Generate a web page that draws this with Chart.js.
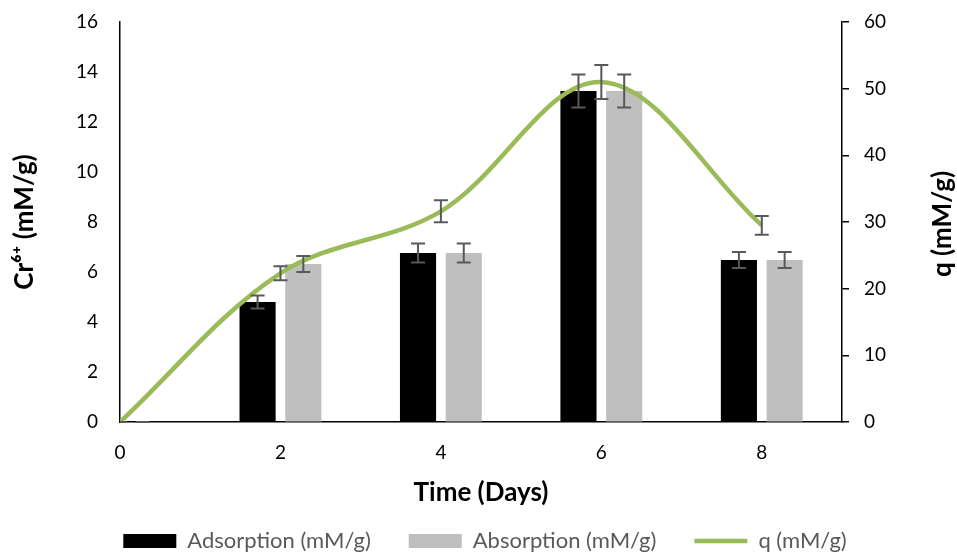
<!DOCTYPE html>
<html>
<head>
<meta charset="utf-8">
<script src="https://cdn.jsdelivr.net/npm/chart.js@4/dist/chart.umd.min.js"></script>
<style>
  html, body { margin: 0; padding: 0; background: #fff; overflow: hidden; }
  canvas { display: block; }
</style>
</head>
<body>
<canvas id="c" width="957" height="562"></canvas>
<script>
// ---- data ----
const days = [0, 2, 4, 6, 8];
const adsorption = [0, 4.8, 6.76, 13.24, 6.48];
const adsorptionErr = [0, 0.26, 0.38, 0.66, 0.32];
const absorption = [0, 6.32, 6.76, 13.24, 6.48];
const absorptionErr = [0, 0.32, 0.38, 0.66, 0.32];
const qValues = [0, 22.3, 31.6, 51.0, 29.5];
const qErr = [0, 1.05, 1.65, 2.55, 1.4];
const seriesLabels = ['Adsorption (mM/g)', 'Absorption (mM/g)', 'q (mM/g)'];
const xTicks = [0, 2, 4, 6, 8];
const leftTicks = [0, 2, 4, 6, 8, 10, 12, 14, 16];
const rightTicks = [0, 10, 20, 30, 40, 50, 60];

const LPAD = 13;
const FONT = 'Lato, "Open Sans", sans-serif';
const TITLE_SIZE = 26;

const errorSets = [adsorptionErr, absorptionErr, qErr];

const errorBarPlugin = {
  id: 'errorBars',
  afterDatasetsDraw(chart) {
    const ctx = chart.ctx;
    const area = chart.chartArea;
    ctx.save();
    ctx.beginPath();
    ctx.rect(area.left, area.top - 10, area.right - area.left, area.bottom - area.top + 12);
    ctx.clip();
    ctx.strokeStyle = '#595959';
    ctx.lineWidth = 2;
    chart.data.datasets.forEach((ds, di) => {
      const meta = chart.getDatasetMeta(di);
      const yScale = chart.scales[meta.yAxisID];
      const errs = errorSets[di];
      meta.data.forEach((el, i) => {
        const v = ds.data[i].y;
        const e = errs[i];
        const x = el.x;
        const yt = yScale.getPixelForValue(v + e);
        const yb = yScale.getPixelForValue(Math.max(v - e, 0));
        const cap = 7;
        ctx.beginPath();
        ctx.moveTo(x, yt); ctx.lineTo(x, yb);
        ctx.moveTo(x - cap, yt); ctx.lineTo(x + cap, yt);
        ctx.moveTo(x - cap, yb); ctx.lineTo(x + cap, yb);
        ctx.stroke();
      });
    });
    ctx.restore();
  }
};

const rightTitlePlugin = {
  id: 'rightTitle',
  afterDraw(chart) {
    const ctx = chart.ctx;
    const a = chart.chartArea;
    ctx.save();
    ctx.translate(943, (a.top + a.bottom) / 2 + 2);
    ctx.rotate(-Math.PI / 2);
    ctx.font = 'bold ' + TITLE_SIZE + 'px ' + FONT;
    ctx.fillStyle = '#000';
    ctx.textAlign = 'center';
    ctx.textBaseline = 'middle';
    ctx.fillText('q (mM/g)', 0, 0);
    ctx.restore();
  }
};

const noVPad = (s, w) => { s.width = w; s.paddingTop = 0; s.paddingBottom = 0; };

const toPts = (vals) => days.map((d, i) => ({ x: d, y: vals[i] }));

new Chart(document.getElementById('c'), {
  type: 'bar',
  data: {
    datasets: [
      {
        type: 'bar', label: seriesLabels[0], data: toPts(adsorption),
        backgroundColor: '#000000', borderWidth: 0,
        categoryPercentage: 0.57, barPercentage: 0.79,
        yAxisID: 'y', pointStyle: 'rect'
      },
      {
        type: 'bar', label: seriesLabels[1], data: toPts(absorption),
        backgroundColor: '#BFBFBF', borderWidth: 0,
        categoryPercentage: 0.57, barPercentage: 0.79,
        yAxisID: 'y', pointStyle: 'rect'
      },
      {
        type: 'line', label: seriesLabels[2], data: toPts(qValues),
        borderColor: '#9BBB59', backgroundColor: '#9BBB59', borderWidth: 4.5,
        pointRadius: 0, tension: 0.35, fill: false,
        yAxisID: 'y2', order: -1, pointStyle: 'line'
      }
    ]
  },
  options: {
    responsive: false,
    animation: false,
    devicePixelRatio: 1,
    layout: { padding: { top: 22, left: LPAD, right: 0, bottom: 0 } },
    plugins: {
      tooltip: { enabled: false },
      legend: {
        position: 'bottom',
        labels: {
          usePointStyle: true,
          pointStyleWidth: 53,
          boxHeight: 14,
          padding: 38,
          color: '#595959',
          font: { family: FONT, size: 22 },
          sort: (a, b) => a.datasetIndex - b.datasetIndex
        }
      }
    },
    scales: {
      x: {
        type: 'linear', min: 0, max: 9, offset: false,
        afterBuildTicks: (s) => { s.ticks = xTicks.map(v => ({ value: v })); },
        afterFit: (s) => { s.height = 70; },
        grid: { display: true, drawOnChartArea: false, drawTicks: false, offset: false },
        border: { display: true, color: '#000', width: 1.5 },
        ticks: { color: '#000', font: { family: FONT, size: 19 }, padding: 19, maxRotation: 0, includeBounds: false },
        title: {
          display: true, text: 'Time (Days)', color: '#000',
          font: { family: FONT, size: TITLE_SIZE, weight: 'bold' },
          padding: { top: 0, bottom: -16.6 }
        }
      },
      y: {
        position: 'left', min: 0, max: 16,
        afterBuildTicks: (s) => { s.ticks = leftTicks.map(v => ({ value: v })); },
        afterFit: (s) => noVPad(s, 120 - LPAD),
        grid: { display: true, drawOnChartArea: false, drawTicks: false },
        border: { display: true, color: '#000', width: 1.5 },
        ticks: { color: '#000', font: { family: FONT, size: 19 }, padding: 22 },
        title: {
          display: true, text: 'Cr⁶⁺ (mM/g)', color: '#000',
          font: { family: FONT, size: TITLE_SIZE, weight: 'bold' },
          padding: { top: -3.6, bottom: 0 }
        }
      },
      y2: {
        position: 'right', min: 0, max: 60,
        afterBuildTicks: (s) => { s.ticks = rightTicks.map(v => ({ value: v })); },
        afterFit: (s) => noVPad(s, 115),
        grid: { display: true, drawOnChartArea: false, drawTicks: true, tickLength: 7, color: '#000', lineWidth: 1.5 },
        border: { display: true, color: '#000', width: 1.5 },
        ticks: { color: '#000', font: { family: FONT, size: 19 }, padding: 15 }
      }
    }
  },
  plugins: [errorBarPlugin, rightTitlePlugin]
});
</script>
</body>
</html>
